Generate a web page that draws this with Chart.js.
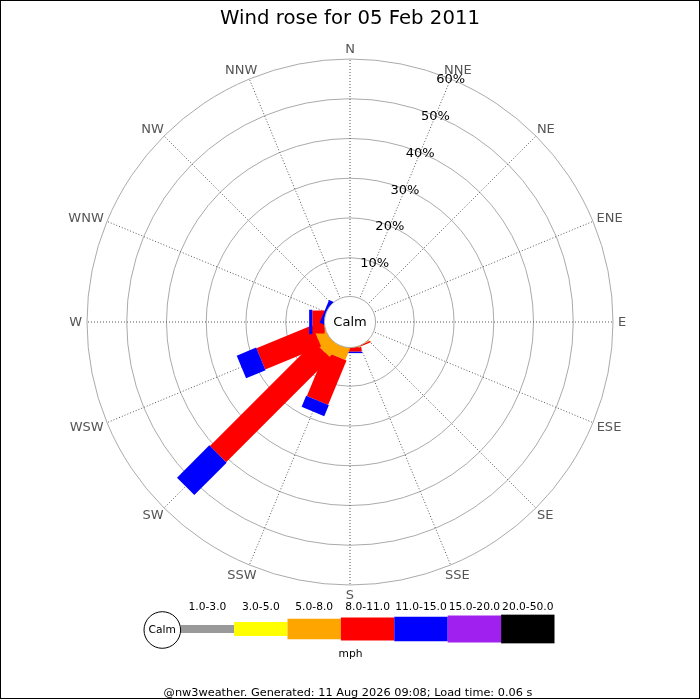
<!DOCTYPE html>
<html>
<head>
<meta charset="utf-8">
<script src="https://cdn.jsdelivr.net/npm/chart.js@4.4.1/dist/chart.umd.min.js"></script>
<style>
  html, body { margin: 0; padding: 0; background: #fff; }
  #wrap { width: 700px; height: 700px; position: relative; }
</style>
</head>
<body>
<div id="wrap"><canvas id="c" width="700" height="700"></canvas></div>
<script>
// ---------------- data ----------------
const directions = ['N','NNE','NE','ENE','E','ESE','SE','SSE','S','SSW','SW','WSW','W','WNW','NW','NNW'];
const speedRanges = ['1.0-3.0','3.0-5.0','5.0-8.0','8.0-11.0','11.0-15.0','15.0-20.0','20.0-50.0'];
const speedUnit = 'mph';
// percentage of time per direction for each speed range (N ... NNW)
const speed_1_3   = [0,0,0,0,0,0,0,0,   0,    0,   0,    0,   0,   0,  0,0];
const speed_3_5   = [0,0,0,0,0,0,0,0,   0,    0,   0.2,  0,   0,   0,  0,0];
const speed_5_8   = [0,0,0,0,0,0,0,0.2, 0.2,  3.1, 3.5,  2.9, 0.2, 0,  0,0];
const speed_8_11  = [0,0,0,0,0,0,0,0.3, 1.1, 12.1, 37.1, 15.2, 3.1, 0,  0,0];
const speed_11_15 = [0,0,0,0,0,0,0,0,   0.35, 3.0, 11.5,  5.3, 0.8, 0.8,0,0];
const speed_15_20 = [0,0,0,0,0,0,0,0,   0,    0,   0,    0,   0,   0,  0,0];
const speed_20_50 = [0,0,0,0,0,0,0,0,   0,    0,   0,    0,   0,   0,  0,0];
const calmLabel = 'Calm';
const tickValues = [0, 10, 20, 30, 40, 50, 60];
const tickLabels = ['', '10%', '20%', '30%', '40%', '50%', '60%'];
const titleText = 'Wind rose for 05 Feb 2011';
const footerText = '@nw3weather. Generated: 11 Aug 2026 09:08; Load time: 0.06 s';

// ---------------- styles ----------------
const rangeColors = ['#999999','#ffff00','#ffa500','#ff0000','#0000ff','#a020f0','#000000'];
const rangeWidths = [8, 14, 20.5, 23, 24.5, 27, 28.7];
const ROSE = { cx: 350, cy: 322, radius: 263, zeroRadius: 24.56, labelPadX: 5, labelPadY: 3.5, labelHalfH: 6.5 };
const FONT = 'DejaVu Sans';

const series = [speed_1_3, speed_3_5, speed_5_8, speed_8_11, speed_11_15, speed_15_20, speed_20_50];
// cumulative table for stacking along each direction
const cumulative = [];
series.forEach((s, k) => {
  cumulative.push(s.map((v, i) => v + (k ? cumulative[k - 1][i] : 0)));
});
const scaleMax = tickValues[tickValues.length - 1];
const scaleMin = -ROSE.zeroRadius * scaleMax / (ROSE.radius - ROSE.zeroRadius);

Chart.defaults.font.family = FONT;

const windRosePlugin = {
  id: 'windRose',
  afterDatasetsDraw(chart) {
    const ctx = chart.ctx;
    const r = chart.scales.r;
    const cx = r.xCenter, cy = r.yCenter;
    ctx.save();
    ctx.lineCap = 'butt';
    directions.forEach((d, i) => {
      series.forEach((s, k) => {
        if (!(s[i] > 0)) return;
        const end = chart.getDatasetMeta(k).data[i];
        const prevCum = k === 0 ? 0 : cumulative[k - 1][i];
        const start = prevCum > 0 ? chart.getDatasetMeta(k - 1).data[i] : { x: cx, y: cy };
        ctx.beginPath();
        ctx.moveTo(start.x, start.y);
        ctx.lineTo(end.x, end.y);
        ctx.lineWidth = rangeWidths[k];
        ctx.strokeStyle = rangeColors[k];
        ctx.stroke();
      });
    });
    // calm circle
    const calmR = r.getDistanceFromCenterForValue(0) + 1;
    ctx.beginPath();
    ctx.arc(cx, cy, calmR, 0, Math.PI * 2);
    ctx.fillStyle = '#fff';
    ctx.fill();
    ctx.lineWidth = 1;
    ctx.strokeStyle = '#aaaaaa';
    ctx.stroke();
    ctx.fillStyle = '#000';
    ctx.font = '13px "' + FONT + '"';
    ctx.textAlign = 'center';
    ctx.textBaseline = 'middle';
    ctx.fillText(calmLabel, cx, cy + 1);
    // percentage labels along NNE spoke
    r.ticks.forEach((t) => {
      if (!t.label) return;
      const p = r.getPointPositionForValue(1, t.value);
      ctx.fillText(t.label, p.x, p.y + 1);
    });
    // compass direction labels outside the outer ring
    const R = r.drawingArea;
    ctx.fillStyle = '#555555';
    chart.data.labels.forEach((lab, i) => {
      const p = r.getPointPosition(i, R);
      const ux = (p.x - cx) / R, uy = (p.y - cy) / R;
      const w = ctx.measureText(lab).width;
      const x = cx + ux * (R + ROSE.labelPadX + w / 2);
      const y = cy + uy * (R + ROSE.labelPadY + ROSE.labelHalfH);
      ctx.fillText(lab, x, y + 1);
    });
    ctx.restore();
  },
  afterDraw(chart) {
    const ctx = chart.ctx;
    ctx.save();
    // legend
    const lg = { calmX: 162.3, calmY: 630, calmR: 18.3, x0: 180.7, segW: 53.4, cy: 629, labelY: 607.2, unitY: 654 };
    series.forEach((s, k) => {
      const h = rangeWidths[k];
      ctx.fillStyle = rangeColors[k];
      ctx.fillRect(lg.x0 + k * lg.segW, lg.cy - h / 2, lg.segW, h);
    });
    ctx.beginPath();
    ctx.arc(lg.calmX, lg.calmY, lg.calmR, 0, Math.PI * 2);
    ctx.fillStyle = '#fff';
    ctx.fill();
    ctx.lineWidth = 1;
    ctx.strokeStyle = '#000';
    ctx.stroke();
    ctx.fillStyle = '#000';
    ctx.textAlign = 'center';
    ctx.textBaseline = 'middle';
    ctx.font = '10.7px "' + FONT + '"';
    ctx.fillText(calmLabel, lg.calmX, lg.calmY + 0.5);
    speedRanges.forEach((lab, k) => {
      ctx.fillText(lab, lg.x0 + (k + 0.5) * lg.segW, lg.labelY);
    });
    ctx.fillText(speedUnit, 350.5, lg.unitY);
    // footer
    ctx.font = '11.3px "' + FONT + '"';
    ctx.fillText(footerText, 348, 693.5);
    // frame
    ctx.lineWidth = 1;
    ctx.strokeStyle = '#000';
    ctx.strokeRect(0.5, 0.5, 699, 698);
    ctx.restore();
  }
};

new Chart(document.getElementById('c'), {
  type: 'radar',
  data: {
    labels: directions,
    datasets: speedRanges.map((name, k) => ({
      label: name,
      data: cumulative[k],
      showLine: false,
      fill: false,
      pointRadius: 0,
      pointHoverRadius: 0,
      pointHitRadius: 0,
      borderWidth: 0,
      backgroundColor: rangeColors[k],
      borderColor: rangeColors[k]
    }))
  },
  options: {
    responsive: false,
    animation: false,
    events: [],
    plugins: {
      legend: { display: false },
      tooltip: { enabled: false },
      title: {
        display: true,
        text: titleText,
        color: '#000',
        font: { family: FONT, size: 19.7, weight: 'normal' },
        padding: { top: 7, bottom: 10 }
      }
    },
    scales: {
      r: {
        min: scaleMin,
        max: scaleMax,
        startAngle: 0,
        ticks: {
          display: false,
          stepSize: 10,
          callback: (v) => {
            const j = tickValues.indexOf(v);
            return j >= 0 ? tickLabels[j] : '';
          }
        },
        afterBuildTicks: (scale) => {
          scale.ticks = tickValues.map((v) => ({ value: v }));
        },
        afterFit: (scale) => {
          scale.xCenter = ROSE.cx;
          scale.yCenter = ROSE.cy;
          scale.drawingArea = ROSE.radius;
        },
        grid: { circular: true, color: '#aaaaaa', lineWidth: 1 },
        angleLines: { display: true, color: '#555555', lineWidth: 1, borderDash: [1, 2] },
        pointLabels: { display: false }
      }
    }
  },
  plugins: [windRosePlugin]
});
</script>
</body>
</html>
